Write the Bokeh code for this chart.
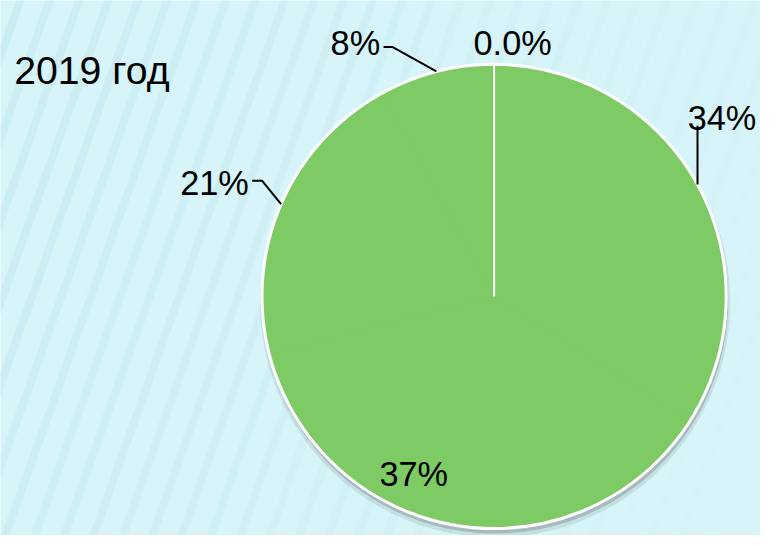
import math
from bokeh.plotting import figure
from bokeh.models import Range1d, ColumnDataSource
from bokeh.core.properties import value
from bokeh.embed import file_html
from bokeh.resources import INLINE

# ---------------- data ----------------
title_text = "2019 год"
slice_values = [0.0, 34, 37, 21, 8]
slice_labels = ["0.0%", "34%", "37%", "21%", "8%"]

# ---------------- layout (reference pixel coords, y down) ----------------
W, H = 760, 535
S = W / 776.0
CX, CY_REF, R = 504, 302, 237
FONT = "Liberation Sans"
GREEN = "#7eca64"
BG = "#d7f5f9"

def Y(yref):
    return 546 - yref

def fs(px):
    return "%.1fpx" % (px * S)

# per-label placement relative to the edge point at slice middle
label_layout = [
    {"dx": -21, "dy": -22, "leader": []},
    {"dx": -10, "dy": -68, "leader": [(0, -60)]},
    {"dx": -80, "dy": -53, "leader": []},
    {"dx": -103, "dy": -22, "leader": [(-19.5, -24), (-29.5, -24)]},
    {"dx": -108, "dy": -29, "leader": [(-45, -25), (-54, -25)]},
]

p = figure(width=W, height=H, output_backend="svg", toolbar_location=None,
           x_range=Range1d(0, 776), y_range=Range1d(0, 546),
           x_axis_type=None, y_axis_type=None, min_border=0)
p.grid.visible = False
p.outline_line_color = None
p.background_fill_color = BG
p.border_fill_color = BG

# decorative diagonal stripes in the background
xs0, ys0, xs1, ys1, alphas = [], [], [], [], []
slope_dx = 560 / math.tan(math.radians(70))
for k in range(-12, 30):
    x0 = k * 30
    x1 = x0 + slope_dx
    xs0.append(x0); ys0.append(Y(560)); xs1.append(x1); ys1.append(Y(-10))
    xm = (x0 + x1) / 2
    alphas.append(max(0.0, 0.35 * (1 - xm / 850)))
p.segment(x0=xs0, y0=ys0, x1=xs1, y1=ys1, line_color="#b8dfe6",
          line_width=8, line_alpha=alphas)

# shadow below the pie
p.circle(x=[CX + 1], y=[Y(CY_REF + 6)], radius=R + 3, fill_color="#4a4a4a",
         fill_alpha=0.12, line_color=None)
p.circle(x=[CX + 1], y=[Y(CY_REF + 4)], radius=R + 1, fill_color="#4a4a4a",
         fill_alpha=0.25, line_color=None)

# slices
total = sum(slice_values)
cum = 0.0
starts, ends, mids = [], [], []
for v in slice_values:
    a0 = 2 * math.pi * cum / total
    cum += v
    a1 = 2 * math.pi * cum / total
    starts.append(a0); ends.append(a1); mids.append((a0 + a1) / 2)

nz = [i for i, v in enumerate(slice_values) if v > 0]
src = ColumnDataSource(dict(
    start=[math.pi / 2 - starts[i] for i in nz],
    end=[math.pi / 2 - ends[i] for i in nz],
))
p.wedge(x=CX, y=Y(CY_REF), radius=R, start_angle="start", end_angle="end",
        direction="clock", fill_color=GREEN, line_color=GREEN, line_width=1,
        source=src)

# outer white ring
p.circle(x=[CX], y=[Y(CY_REF)], radius=R, fill_color=None,
         line_color="white", line_width=3)

# white boundary for zero-size slices
for i, v in enumerate(slice_values):
    if v == 0:
        a = starts[i]
        p.segment(x0=[CX], y0=[Y(CY_REF)], x1=[CX + R * math.sin(a)],
                  y1=[Y(CY_REF - R * math.cos(a))], line_color="white", line_width=2)

# labels and leader lines
tx, ty, tt = [], [], []
for i, lab in enumerate(slice_labels):
    lay = label_layout[i]
    ex = CX + R * math.sin(mids[i])
    ey = CY_REF - R * math.cos(mids[i])
    tx.append(ex + lay["dx"]); ty.append(Y(ey + lay["dy"])); tt.append(lab)
    if lay["leader"]:
        lx = [ex] + [ex + d[0] for d in lay["leader"]]
        ly = [Y(ey)] + [Y(ey + d[1]) for d in lay["leader"]]
        p.line(x=lx, y=ly, line_color="black", line_width=2)

p.text(x=tx, y=ty, text=tt, text_font=value(FONT), text_font_size=fs(35),
       text_color="black", text_align="left", text_baseline="alphabetic")

p.text(x=[14], y=[Y(71)], text=[title_text], text_font=value(FONT),
       text_font_size=fs(40), text_color="black", text_align="left",
       text_baseline="alphabetic")

open("out.html", "w").write(file_html(p, INLINE))
